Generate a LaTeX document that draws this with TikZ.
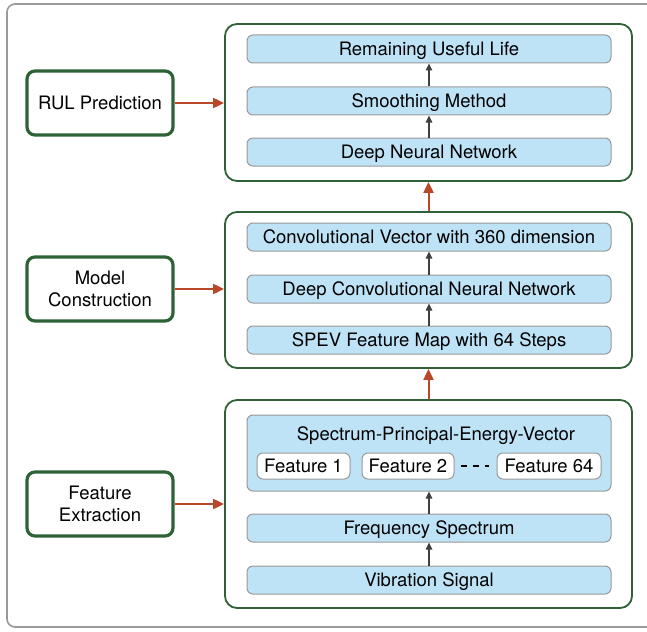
\documentclass[tikz,border=0pt]{standalone}
\usepackage{fontspec}
\setmainfont{TeX Gyre Heros}
\usetikzlibrary{arrows.meta}
\definecolor{frameGreen}{HTML}{2E6236}
\definecolor{boxBlue}{HTML}{BFE3F6}
\definecolor{arrowRed}{HTML}{B8482A}
\definecolor{edgeGray}{HTML}{999999}
\tikzset{
  stage/.style={draw=frameGreen, line width=1.6pt, rounded corners=4pt, fill=white,
    minimum width=73pt, minimum height=32pt, align=center, inner sep=0pt},
  group/.style={draw=frameGreen, line width=0.9pt, rounded corners=6pt, fill=white,
    minimum width=203.5pt, inner sep=0pt},
  layer/.style={draw=edgeGray, line width=0.5pt, rounded corners=3pt, fill=boxBlue,
    minimum width=182pt, minimum height=14pt, inner sep=0pt, text depth=0.5pt},
  feat/.style={draw=edgeGray, line width=0.5pt, rounded corners=3pt, fill=white,
    minimum height=13pt, inner sep=0pt, text depth=0.5pt},
  flow/.style={-{Triangle[length=5.5pt,width=5pt]}, draw=arrowRed, fill=arrowRed, line width=1pt},
  step arrow/.style={-{Triangle[length=3.5pt,width=3.2pt]}, line width=0.6pt, draw=black!75}
}
\begin{document}
\begin{tikzpicture}[x=0.5pt, y=-0.5pt, font=\fontsize{9.25}{11}\selectfont]
  \useasboundingbox (0,0) rectangle (647,631);
  \draw[edgeGray, line width=0.8pt, rounded corners=4pt] (7,4) rectangle (660,627);

  % left column
  \node[stage] (rul)   at (100,103) {RUL Prediction};
  \node[stage] (model) at (100,289) {Model\\Construction};
  \node[stage] (extr)  at (100,504) {Feature\\Extraction};

  % right groups
  \node[group, minimum height=78.5pt] (gtop) at (428.5,102.5) {};
  \node[group, minimum height=78pt]   (gmid) at (428.5,290) {};
  \node[group, minimum height=104pt]  (gbot) at (428.5,504) {};

  % top group
  \node[layer] (life)   at (429,49)  {Remaining Useful Life};
  \node[layer] (smooth) at (429,101) {Smoothing Method};
  \node[layer] (dnn)    at (429,152) {Deep Neural Network};

  % middle group
  \node[layer] (convvec) at (429,237) {Convolutional Vector with 360 dimension};
  \node[layer] (dcnn)    at (429,289) {Deep Convolutional Neural Network};
  \node[layer] (fmap)    at (429,340) {SPEV Feature Map with 64 Steps};

  % bottom group
  \node[layer, minimum height=38pt] (spev) at (429,453) {};
  \node (spevtitle) at (436,436) {Spectrum-Principal-Energy-Vector};
  \node[feat, minimum width=46.5pt] (f1)  at (303.5,466) {Feature 1};
  \node[feat, minimum width=46pt]   (f2)  at (408,466)   {Feature 2};
  \node[feat, minimum width=52pt]   (f64) at (549,466)   {Feature 64};
  \node[layer] (freq) at (429,528) {Frequency Spectrum};
  \node[layer] (vib)  at (429,580) {Vibration Signal};

  \draw[line width=1.2pt, dash pattern=on 3pt off 3pt, shorten <=3pt, shorten >=4pt] (f2) -- (f64);

  \draw[step arrow] (vib) -- (freq);
  \draw[step arrow] (freq) -- (spev);
  \draw[step arrow] (fmap) -- (dcnn);
  \draw[step arrow] (dcnn) -- (convvec);
  \draw[step arrow] (dnn) -- (smooth);
  \draw[step arrow] (smooth) -- (life);

  \draw[flow] (gbot) -- (gmid);
  \draw[flow] (gmid) -- (gtop);
  \draw[flow] (rul) -- (rul -| gtop.west);
  \draw[flow] (model) -- (model -| gmid.west);
  \draw[flow] (extr) -- (extr -| gbot.west);
\end{tikzpicture}
\end{document}
